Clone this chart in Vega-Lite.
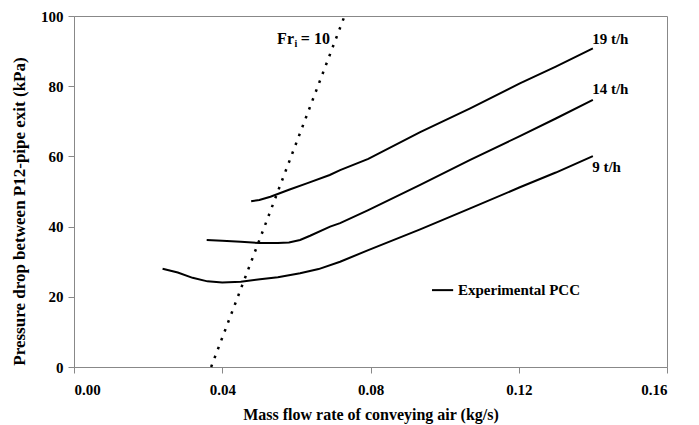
{
  "$schema": "https://vega.github.io/schema/vega-lite/v6.json",
  "width": 593,
  "height": 351,
  "autosize": {"type": "none"},
  "padding": {"left": 74, "top": 16, "right": 32, "bottom": 58},
  "background": "white",
  "config": {
    "view": {"stroke": "#888888", "strokeWidth": 1},
    "axis": {
      "grid": false,
      "domainColor": "#888888",
      "tickColor": "#888888",
      "tickSize": 6,
      "labelFont": "Liberation Serif",
      "labelFontWeight": "bold",
      "labelFontSize": 15,
      "labelColor": "black",
      "titleFont": "Liberation Serif",
      "titleFontWeight": "bold",
      "titleFontSize": 16,
      "titleColor": "black"
    },
    "text": {"font": "Liberation Serif", "fontWeight": "bold", "fontSize": 15, "color": "black"}
  },
  "datasets": {
    "curves": [
      {"series": "19 t/h", "air": 0.0478, "dp": 47.2},
      {"series": "19 t/h", "air": 0.050, "dp": 47.6},
      {"series": "19 t/h", "air": 0.053, "dp": 48.5},
      {"series": "19 t/h", "air": 0.058, "dp": 50.5},
      {"series": "19 t/h", "air": 0.063, "dp": 52.4},
      {"series": "19 t/h", "air": 0.069, "dp": 54.7},
      {"series": "19 t/h", "air": 0.0718, "dp": 56.1},
      {"series": "19 t/h", "air": 0.0794, "dp": 59.3},
      {"series": "19 t/h", "air": 0.0934, "dp": 66.9},
      {"series": "19 t/h", "air": 0.1069, "dp": 73.7},
      {"series": "19 t/h", "air": 0.1203, "dp": 80.8},
      {"series": "19 t/h", "air": 0.130, "dp": 85.6},
      {"series": "19 t/h", "air": 0.140, "dp": 90.8},
      {"series": "14 t/h", "air": 0.0358, "dp": 36.2},
      {"series": "14 t/h", "air": 0.040, "dp": 36.0},
      {"series": "14 t/h", "air": 0.045, "dp": 35.7},
      {"series": "14 t/h", "air": 0.050, "dp": 35.3},
      {"series": "14 t/h", "air": 0.055, "dp": 35.3},
      {"series": "14 t/h", "air": 0.058, "dp": 35.5},
      {"series": "14 t/h", "air": 0.061, "dp": 36.2},
      {"series": "14 t/h", "air": 0.0637, "dp": 37.4},
      {"series": "14 t/h", "air": 0.0691, "dp": 40.0},
      {"series": "14 t/h", "air": 0.0718, "dp": 41.0},
      {"series": "14 t/h", "air": 0.0794, "dp": 44.7},
      {"series": "14 t/h", "air": 0.0934, "dp": 51.9},
      {"series": "14 t/h", "air": 0.1069, "dp": 59.0},
      {"series": "14 t/h", "air": 0.1203, "dp": 65.8},
      {"series": "14 t/h", "air": 0.130, "dp": 70.8},
      {"series": "14 t/h", "air": 0.140, "dp": 76.1},
      {"series": "9 t/h", "air": 0.0239, "dp": 28.0},
      {"series": "9 t/h", "air": 0.028, "dp": 26.9},
      {"series": "9 t/h", "air": 0.032, "dp": 25.4},
      {"series": "9 t/h", "air": 0.036, "dp": 24.4},
      {"series": "9 t/h", "air": 0.040, "dp": 24.1},
      {"series": "9 t/h", "air": 0.045, "dp": 24.3},
      {"series": "9 t/h", "air": 0.0502, "dp": 25.0},
      {"series": "9 t/h", "air": 0.055, "dp": 25.6},
      {"series": "9 t/h", "air": 0.061, "dp": 26.7},
      {"series": "9 t/h", "air": 0.066, "dp": 27.9},
      {"series": "9 t/h", "air": 0.0718, "dp": 30.0},
      {"series": "9 t/h", "air": 0.0794, "dp": 33.3},
      {"series": "9 t/h", "air": 0.0934, "dp": 39.2},
      {"series": "9 t/h", "air": 0.1069, "dp": 45.2},
      {"series": "9 t/h", "air": 0.1203, "dp": 51.2},
      {"series": "9 t/h", "air": 0.130, "dp": 55.4},
      {"series": "9 t/h", "air": 0.140, "dp": 60.1}
    ],
    "froude": [
      {"air": 0.037, "dp": 0},
      {"air": 0.073, "dp": 100}
    ],
    "labels": [
      {"air": 0.1398, "dp": 92.0, "label": "19 t/h"},
      {"air": 0.1398, "dp": 77.8, "label": "14 t/h"},
      {"air": 0.1398, "dp": 55.6, "label": "9 t/h"}
    ],
    "frMain": [
      {"air": 0.0548, "dp": 92.0, "label": "Fr"},
      {"air": 0.0612, "dp": 92.0, "label": "= 10"}
    ],
    "frSub": [
      {"air": 0.0595, "dp": 92.0, "label": "i"}
    ],
    "legendLine": [
      {"air": 0.0966, "air2": 0.1023, "dp": 21.9}
    ],
    "legendText": [
      {"air": 0.1036, "dp": 21.9, "label": "Experimental PCC"}
    ]
  },
  "layer": [
    {
      "data": {"name": "curves"},
      "mark": {"type": "line", "color": "black", "strokeWidth": 2},
      "encoding": {
        "x": {
          "field": "air", "type": "quantitative",
          "scale": {"domain": [0, 0.16], "nice": false},
          "axis": {"values": [0, 0.04, 0.08, 0.12, 0.16], "format": ".2f", "labelPadding": 9, "titlePadding": 9},
          "title": "Mass flow rate of conveying air (kg/s)"
        },
        "y": {
          "field": "dp", "type": "quantitative",
          "scale": {"domain": [0, 100], "nice": false},
          "axis": {"values": [0, 20, 40, 60, 80, 100], "labelPadding": 5, "titlePadding": 12, "titleFontSize": 17, "titleY": 195},
          "title": "Pressure drop between  P12-pipe exit (kPa)"
        },
        "detail": {"field": "series"}
      }
    },
    {
      "data": {"name": "froude"},
      "mark": {"type": "line", "color": "black", "strokeWidth": 2.5, "strokeDash": [2.5, 7], "strokeCap": "butt"},
      "encoding": {
        "x": {"field": "air", "type": "quantitative"},
        "y": {"field": "dp", "type": "quantitative"}
      }
    },
    {
      "data": {"name": "labels"},
      "mark": {"type": "text", "align": "left", "baseline": "alphabetic"},
      "encoding": {
        "x": {"field": "air", "type": "quantitative"},
        "y": {"field": "dp", "type": "quantitative"},
        "text": {"field": "label"}
      }
    },
    {
      "data": {"name": "frMain"},
      "mark": {"type": "text", "align": "left", "baseline": "alphabetic", "fontSize": 16},
      "encoding": {
        "x": {"field": "air", "type": "quantitative"},
        "y": {"field": "dp", "type": "quantitative"},
        "text": {"field": "label"}
      }
    },
    {
      "data": {"name": "frSub"},
      "mark": {"type": "text", "align": "left", "baseline": "alphabetic", "fontSize": 10, "dy": 3},
      "encoding": {
        "x": {"field": "air", "type": "quantitative"},
        "y": {"field": "dp", "type": "quantitative"},
        "text": {"field": "label"}
      }
    },
    {
      "data": {"name": "legendLine"},
      "mark": {"type": "rule", "color": "black", "strokeWidth": 2},
      "encoding": {
        "x": {"field": "air", "type": "quantitative"},
        "x2": {"field": "air2"},
        "y": {"field": "dp", "type": "quantitative"}
      }
    },
    {
      "data": {"name": "legendText"},
      "mark": {"type": "text", "align": "left", "baseline": "middle"},
      "encoding": {
        "x": {"field": "air", "type": "quantitative"},
        "y": {"field": "dp", "type": "quantitative"},
        "text": {"field": "label"}
      }
    }
  ]
}
